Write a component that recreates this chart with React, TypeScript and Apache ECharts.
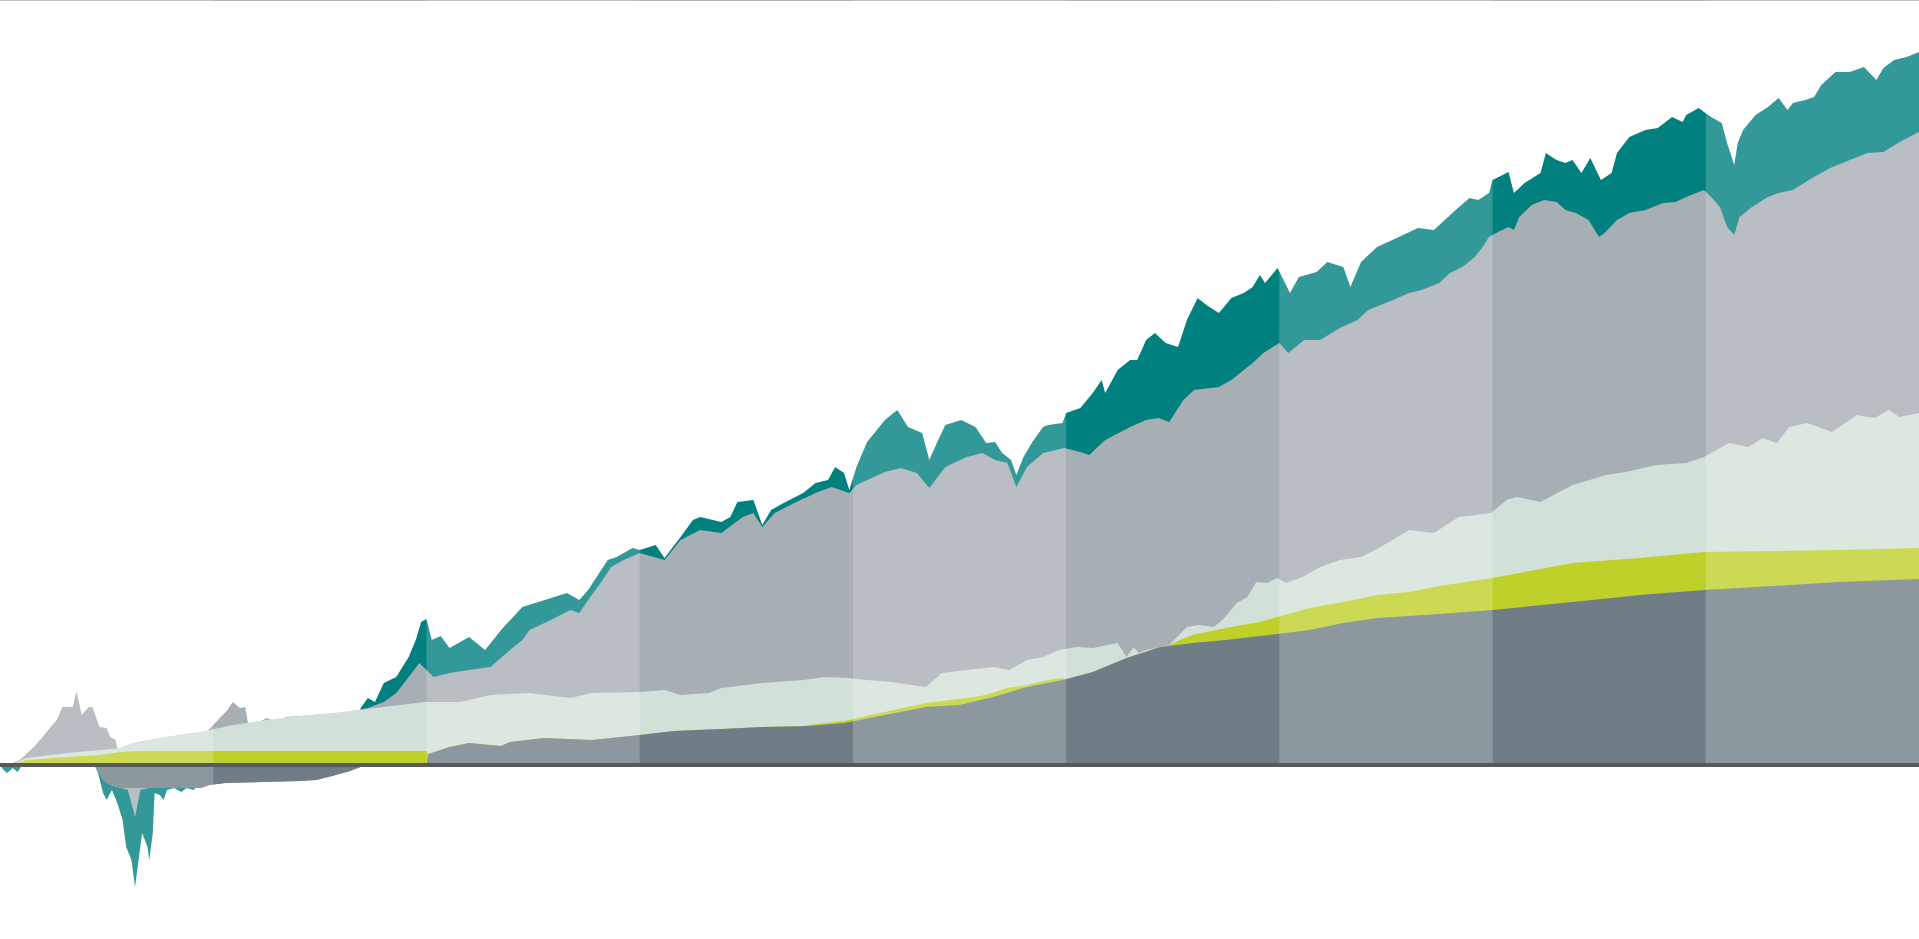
import React, { useEffect, useRef } from "react";
import * as echarts from "echarts";

// x = month (0..108, nine yearly bands), y = value (thousands)
const BANDS_LIGHT: [number, number][] = [[0, 12], [24, 36], [48, 60], [72, 84], [96, 108]];
const X_MAX = 108;
const Y_MIN = -34.8;
const Y_MAX = 153;

// Upper edge of each layer (positive side)
const tealTop: [number, number][] = [
  [0, 0], [19.7, 0], [20.3, 11.4], [20.7, 13.4], [21.1, 12.6], [21.6, 16.4], [22.3, 17.6], [23.0, 21.6], [23.4, 25], [23.7, 28.6],
  [24.0, 29.2], [24.3, 25], [24.8, 25.8], [25.3, 23.4], [26.4, 25.6], [27.3, 23], [28.2, 27], [29.4, 31.6], [30.3, 32.6], [31.9, 34.4],
  [32.6, 33], [33.1, 35], [34.2, 41], [34.7, 41.6], [35.6, 43.4], [36.0, 43], [36.9, 44], [37.4, 41.4], [38.3, 45.6], [39.0, 49],
  [39.4, 49.6], [40.6, 48.6], [41.1, 49.6], [41.5, 52.6], [42.4, 53], [42.9, 48], [43.4, 51], [44.1, 52.4], [45.2, 54.4], [45.9, 56.4],
  [46.6, 57], [47.0, 59.6], [47.5, 58.4], [47.8, 55], [48.2, 59.6], [48.8, 64.6], [49.8, 69], [50.5, 71], [51.1, 67.6], [51.9, 66.4],
  [52.3, 61], [52.8, 65], [53.2, 68], [54.1, 69], [54.9, 67.6], [55.5, 64.4], [56.0, 64.6], [56.4, 62.4], [56.9, 61], [57.2, 58],
  [57.6, 61.6], [58.1, 64.6], [58.7, 67.6], [59.0, 68], [59.8, 68.4], [60.0, 70.4], [60.8, 71.4], [61.5, 74.4], [62.0, 77], [62.2, 74.4],
  [62.9, 79], [63.6, 81], [64.0, 81], [64.5, 85], [65.0, 86.4], [65.6, 84.4], [66.3, 83.6], [66.8, 89], [67.4, 93.4], [67.9, 92],
  [68.6, 90.4], [69.3, 93.4], [70.0, 94.4], [70.5, 95.6], [70.9, 98], [71.2, 96.4], [71.9, 99.4], [72.6, 94.4], [73.1, 97.6], [74.1, 98.6],
  [74.7, 100.6], [75.6, 99.6], [76.0, 95.6], [76.6, 100.6], [77.5, 103.6], [78.6, 105.4], [79.8, 107.4], [80.7, 107], [81.8, 110.6], [82.7, 113.4],
  [83.2, 113], [83.8, 114.4], [84.0, 117], [84.9, 118.6], [85.2, 114.4], [85.8, 116.4], [86.7, 118.4], [87.0, 122.4], [87.6, 121], [88.1, 120.4],
  [88.5, 121], [89.0, 118.4], [89.5, 121.4], [90.1, 117], [90.7, 118.4], [91.0, 122.4], [91.7, 125.6], [92.6, 127], [93.3, 127.4], [94.1, 129.6],
  [94.7, 128.6], [94.9, 130], [95.6, 131.4], [95.9, 130.6], [96.3, 129.6], [96.9, 128.4], [97.2, 124.4], [97.6, 120], [97.8, 124.4], [98.1, 127],
  [98.8, 130], [99.5, 131.6], [100.1, 133.4], [100.6, 131], [100.9, 132.4], [101.6, 133], [102.1, 133.6], [102.5, 136], [103.3, 138.6], [104.1, 138.6],
  [104.9, 139.6], [105.6, 137], [106.0, 139.4], [106.6, 141], [107.3, 141.6], [108, 142.6],
];

const greyTop: [number, number][] = [
  [0, 0], [0.7, 0.4], [1.1, 1], [1.9, 3.6], [2.4, 5.6], [2.8, 7.4], [3.2, 9], [3.5, 11.6], [4.1, 11.6], [4.3, 14.8],
  [4.6, 10], [5.0, 11.6], [5.2, 11.6], [5.6, 7.6], [6.0, 7.4], [6.2, 5.6], [6.5, 5], [6.6, 3.4], [6.8, 3.4], [7.5, 4.4],
  [9.4, 5.6], [11.3, 6.6], [11.6, 6.6], [12.0, 8], [12.8, 11], [13.1, 12.6], [13.5, 11.4], [13.8, 11.6], [14.0, 7.6], [14.3, 8],
  [15.0, 9.4], [15.3, 9], [15.8, 9], [16.1, 9.6], [16.9, 9.8], [19.1, 10.4], [20.2, 11], [20.7, 11.4], [21.6, 12.6], [22.3, 14.4],
  [23.0, 17.6], [23.6, 20.4], [24.0, 19], [24.4, 17.6], [25.3, 18.4], [26.4, 19], [27.6, 19.6], [28.7, 23], [29.4, 25], [29.8, 27],
  [31.0, 29], [32.1, 31], [32.6, 30.4], [33.1, 33], [33.8, 36.4], [34.4, 39.6], [35.1, 41], [36.0, 42.4], [37.4, 41], [38.3, 45],
  [39.4, 47], [40.6, 46.4], [41.8, 49.6], [42.4, 50.4], [42.9, 47.6], [43.6, 50.4], [44.7, 52.4], [45.9, 54.4], [46.8, 55.6], [47.8, 54.4],
  [48.2, 56], [49.8, 58.6], [50.7, 59.4], [51.6, 58.4], [52.3, 55.4], [53.2, 59.6], [54.4, 61.6], [55.3, 62.4], [56.0, 61], [56.7, 60.4],
  [57.2, 55.6], [57.8, 59.6], [58.7, 62.4], [59.9, 63.4], [60.8, 62.6], [61.3, 62], [62.2, 65], [63.6, 67.6], [64.5, 69], [65.2, 69.4],
  [65.8, 68.6], [66.6, 73], [67.2, 75], [68.6, 75.6], [69.3, 77], [70.0, 79], [70.5, 80.4], [71.1, 82.4], [72.0, 84.4], [72.5, 82.4],
  [73.4, 85], [74.3, 85], [75.4, 87.4], [76.4, 89], [77.0, 91], [78.4, 93], [79.3, 94.4], [80.0, 95], [81.0, 96.4], [81.6, 98.4],
  [82.3, 99.6], [83.0, 101.6], [83.4, 103.4], [83.8, 105.6], [84.3, 106.6], [84.9, 107.6], [85.2, 107], [85.5, 109.6], [86.2, 112], [86.9, 113],
  [87.6, 112.6], [88.1, 111], [88.7, 110.4], [89.4, 109], [90.0, 105.6], [90.3, 106.4], [91.0, 109], [91.7, 110.4], [92.6, 111], [93.6, 112.4],
  [94.3, 112.6], [94.9, 113.6], [95.6, 114.6], [95.9, 115], [96.3, 113.6], [96.8, 111.6], [97.2, 107.6], [97.6, 106], [97.9, 109.6], [98.6, 111.6],
  [99.5, 113.6], [100.1, 114.4], [100.9, 115], [101.8, 117], [103.0, 119.4], [104.1, 121], [105.1, 122.4], [106.0, 122.6], [106.9, 124.6], [108, 126.6],
];

const lightGreenTop: [number, number][] = [
  [0, 0], [0.7, 0.2], [1.5, 1.4], [3.8, 2.4], [5.6, 3], [6.8, 3.4], [7.5, 4.4], [9.4, 5.6], [11.3, 6.6], [13.1, 8],
  [15.0, 9], [16.9, 9.8], [18.7, 10.4], [20.2, 11], [23.9, 12.6], [25.9, 12.6], [27.6, 14], [29.8, 14.4], [32.1, 13.4], [33.3, 14.4],
  [36.0, 14.6], [37.4, 15], [38.3, 14], [39.9, 14.4], [40.6, 15.4], [42.9, 16.4], [45.2, 17], [46.4, 17.6], [47.8, 17.4], [48.8, 17],
  [50.2, 16.6], [52.1, 15.6], [53.0, 18.4], [54.4, 19], [55.9, 19.6], [56.8, 19], [57.8, 21], [58.7, 21.6], [59.6, 23], [60.6, 23.6],
  [61.5, 23.4], [62.9, 24.4], [63.4, 21.6], [63.8, 23.6], [64.1, 22.4], [64.5, 23], [65.3, 23.6], [65.8, 24], [66.8, 27.6], [67.5, 28],
  [68.3, 27.6], [68.8, 29], [69.6, 32.4], [70.2, 33.6], [70.7, 36.6], [71.3, 36.4], [71.9, 37.4], [72.4, 36.4], [73.3, 37.6], [74.3, 39.6],
  [75.4, 41], [76.6, 41.6], [77.7, 43.6], [79.3, 47], [80.7, 46.4], [82.1, 49.6], [83.9, 50.4], [84.8, 53], [85.4, 53.6], [86.7, 52.6],
  [88.5, 56], [90.4, 58], [91.5, 58.6], [93.2, 60], [94.9, 60.4], [95.9, 61.6], [97.3, 64.4], [98.4, 63.6], [99.2, 65.4], [100.0, 64.4],
  [100.7, 67.6], [101.7, 68.4], [103.1, 66.6], [104.5, 70], [105.5, 69.4], [106.3, 71], [106.9, 69.6], [108, 70.4],
];

const limeTop: [number, number][] = [
  [0, 0], [1.0, 0.4], [1.5, 1], [3.8, 1.6], [5.6, 2], [6.8, 2.6], [7.9, 2.8], [24.0, 2.8], [24.1, 2.2], [25.3, 3.6],
  [26.4, 4.4], [28.2, 3.8], [28.7, 4.6], [30.6, 5.4], [33.3, 5], [34.4, 5.4], [36.0, 6], [37.9, 6.8], [40.6, 7.2], [42.9, 7.6],
  [45.3, 7.8], [45.5, 8], [47.5, 8.8], [49.8, 10.6], [52.1, 12.4], [54.4, 13.4], [55.5, 14], [56.7, 15.4], [57.8, 16], [59.0, 17],
  [59.8, 17.4], [60.0, 17], [61.5, 18.6], [63.4, 21.4], [65.3, 23.6], [65.7, 23.8], [66.4, 25], [67.1, 26], [69.0, 27.4], [70.9, 28.6],
  [71.9, 29.6], [73.7, 31.4], [75.6, 32.6], [77.5, 34], [79.3, 34.6], [81.0, 35.8], [84.0, 37.4], [88.5, 40.4], [92.3, 41.4], [95.9, 42.6],
  [99.8, 42.8], [103.5, 43], [108, 43.4],
];

const darkGreyTop: [number, number][] = [
  [0, 0], [24.0, 0], [24.1, 2.2], [25.3, 3.6], [26.4, 4.4], [28.2, 3.8], [28.7, 4.6], [30.6, 5.4], [33.3, 5], [34.4, 5.4],
  [36.0, 6], [37.9, 6.8], [40.6, 7.2], [42.9, 7.6], [45.5, 7.8], [47.5, 8.4], [47.8, 8.6], [49.8, 10], [52.1, 11.6], [54.0, 12],
  [55.9, 13.6], [57.8, 15.6], [59.8, 17], [61.5, 18.6], [63.4, 21.4], [65.3, 23.6], [67.1, 24.4], [69.0, 25], [70.9, 25.8], [71.9, 26.2],
  [73.7, 27], [75.6, 28.4], [77.5, 29.4], [79.3, 29.8], [81.0, 30.2], [84.0, 31], [88.5, 32.6], [92.3, 34], [95.9, 35], [99.8, 35.8],
  [103.5, 36.6], [108, 37.2],
];

// Lower edge of each layer (negative side)
const tealBottom: [number, number][] = [
  [0, 0], [0.2, -1], [0.4, -1.6], [0.6, -1], [0.7, -0.6], [1.0, -1.4], [1.2, -0.2], [1.4, 0], [5.3, 0], [5.5, -1.4],
  [5.8, -5.6], [6.0, -7], [6.3, -5], [6.6, -7.6], [6.9, -11], [7.1, -16.4], [7.4, -19], [7.6, -24.4], [7.8, -19], [8.0, -13.6],
  [8.3, -16.4], [8.4, -19], [8.6, -13.6], [8.7, -5.6], [9.0, -6], [9.2, -7], [9.4, -5], [9.8, -4.6], [10.2, -5.4], [10.5, -4.6],
  [10.9, -5], [11.1, -4.2], [11.4, -4], [11.5, -4], [12.1, 0], [108, 0],
];

const greyBottom: [number, number][] = [
  [0, 0], [5.3, 0], [5.5, -1], [5.8, -3], [6.2, -4], [6.8, -4.6], [7.2, -5], [7.6, -10.4], [7.9, -5], [8.4, -4.6],
  [11.3, -4.6], [11.8, -4], [12.7, -3.6], [16.9, -3.2], [17.8, -3], [18.7, -2.2], [19.7, -1.2], [20.3, -0.4], [20.5, 0], [108, 0],
];

const darkGreyBottom: [number, number][] = [
  [0, 0], [5.3, 0], [5.5, -1], [5.8, -3], [6.2, -4], [6.8, -4.6], [11.3, -4.6], [11.8, -4], [12.7, -3.6], [16.9, -3.2],
  [17.8, -3], [18.7, -2.2], [19.7, -1.2], [20.3, -0.4], [20.5, 0], [108, 0],
];

const zeroLine: [number, number][] = [[0, 0], [108, 0]];

const COLORS = {
  teal: "#00807f",
  grey: "#a7aeb4",
  lightGreen: "#d2e1d7",
  lime: "#bfd02a",
  darkGrey: "#717d86",
};

function area(name: string, data: [number, number][], color: string, z: number) {
  return {
    name,
    type: "line",
    data,
    z,
    symbol: "none",
    showSymbol: false,
    sampling: "none",
    silent: true,
    lineStyle: { width: 0, opacity: 0 },
    areaStyle: { color, opacity: 1 },
  };
}

export default function App() {
  const ref = useRef<HTMLDivElement>(null);
  useEffect(() => {
    if (!ref.current) return;
    document.body.style.margin = "0";
    document.body.style.overflow = "hidden";
    const chart = echarts.init(ref.current, undefined, { renderer: "svg" });
    const hiddenAxisParts = {
      axisTick: { show: false },
      axisLabel: { show: false },
      splitLine: { show: false },
    };
    chart.setOption({
      animation: false,
      backgroundColor: "#ffffff",
      grid: { left: 0, right: 0, top: 0, bottom: 0, containLabel: false, outerBoundsMode: "none" },
      xAxis: [
        {
          type: "value",
          min: 0,
          max: X_MAX,
          position: "bottom",
          axisLine: { show: true, onZero: false, lineStyle: { color: "#1a1a1a", width: 1 } },
          ...hiddenAxisParts,
        },
        {
          type: "value",
          min: 0,
          max: X_MAX,
          position: "top",
          axisLine: { show: true, onZero: false, lineStyle: { color: "#b3b3b3", width: 1 } },
          ...hiddenAxisParts,
        },
      ],
      yAxis: {
        type: "value",
        min: Y_MIN,
        max: Y_MAX,
        show: false,
        splitLine: { show: false },
      },
      series: [
        area("Total return", tealTop, COLORS.teal, 1),
        area("Price gain", greyTop, COLORS.grey, 2),
        area("Dividends", lightGreenTop, COLORS.lightGreen, 3),
        area("Income", limeTop, COLORS.lime, 4),
        area("Contributions", darkGreyTop, COLORS.darkGrey, 5),
        area("Total return (neg)", tealBottom, COLORS.teal, 1),
        area("Price gain (neg)", greyBottom, COLORS.grey, 2),
        area("Contributions (neg)", darkGreyBottom, COLORS.darkGrey, 3),
        {
          name: "Bands",
          type: "custom",
          z: 8,
          silent: true,
          data: BANDS_LIGHT.map(([a, b]) => [a, b, 0]),
          encode: { x: [0, 1], y: 2 },
          renderItem: (params: any, api: any) => {
            const s = api.coord([api.value(0), 0]);
            const e = api.coord([api.value(1), 0]);
            const cs = params.coordSys;
            return {
              type: "rect",
              shape: { x: s[0], y: cs.y, width: e[0] - s[0], height: cs.height },
              style: { fill: "rgba(255,255,255,0.2)" },
            };
          },
        },
        {
          name: "Zero",
          type: "line",
          data: zeroLine,
          z: 9,
          symbol: "none",
          silent: true,
          lineStyle: { color: "#58595b", width: 4 },
        },
      ],
    });
    return () => chart.dispose();
  }, []);
  return (
    <div
      ref={ref}
      style={{ position: "fixed", left: 0, top: 0, width: 1919, height: 939 }}
    />
  );
}
